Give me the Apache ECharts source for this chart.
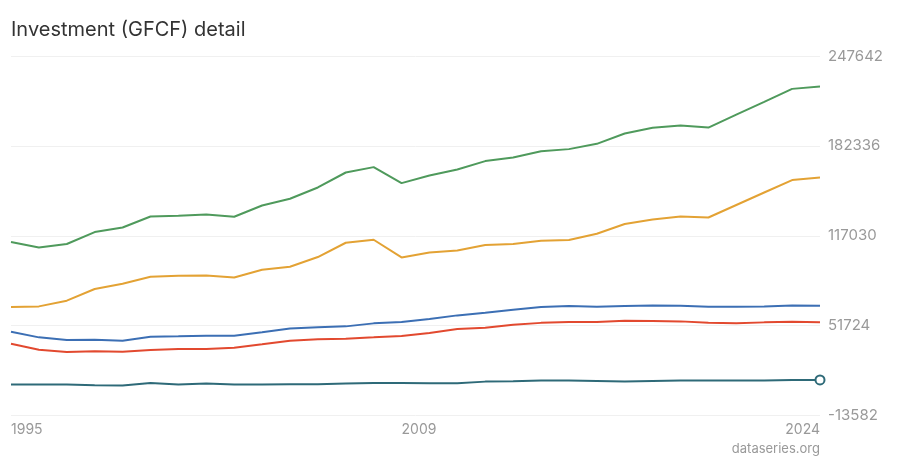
<!DOCTYPE html>
<html>
<head>
<meta charset="utf-8">
<script src="https://cdn.jsdelivr.net/npm/echarts@6/dist/echarts.min.js"></script>
<style>
html,body{margin:0;padding:0;background:#fff;}
#chart{width:900px;height:460px;}
</style>
</head>
<body>
<div id="chart"></div>
<script>
const years = ['1995','1996','1997','1998','1999','2000','2001','2002','2003','2004','2005','2006','2007','2008','2009','2010','2011','2012','2013','2014','2015','2016','2017','2018','2019','2020','2021','2022','2023','2024'];

const seriesTotal = [112456,108536,111004,119716,123056,131042,131550,132494,130824,139028,143892,152096,162986,166906,155290,160808,165164,171262,173876,178377,179974,183822,191300,195438,197108,195656,205094,214314,223752,225422];
const seriesOrange = [65266,65702,69840,78334,82182,87264,87990,88208,86756,92346,94524,101566,111948,114126,101276,104906,106358,110278,111004,113400,113908,118482,125524,128864,131042,130316,139391,148466,157468,159356];
const seriesBlue = [47334,43196,41308,41526,40800,43704,43922,44430,44430,46826,49600,50456,51182,53360,54376,56552,59168,61128,63306,65266,65992,65484,65992,66428,66210,65484,65484,65702,66428,66210];
const seriesRed = [38622,34266,32596,33030,32814,34048,34774,34774,35718,38114,40800,41744,42252,43196,44213,46390,49294,50238,52416,53723,54376,54376,55320,55102,54812,53868,53360,54086,54594,54086];
const seriesTeal = [8856,8856,8856,8348,8130,10090,8856,9582,8856,8856,9074,9074,9582,10090,10090,9800,9800,11034,11252,11760,11760,11542,11034,11542,11760,11760,11760,11760,12270,12270];

const yTicks = [-13582, 51724, 117030, 182336, 247642];
const yStep = yTicks[1] - yTicks[0];
const yBase = yTicks[0];

const shift = arr => arr.map(v => v - yBase);

const chart = echarts.init(document.getElementById('chart'), null, {renderer:'canvas'});
const mk = (name, data, color, last) => ({
  name, type:'line', data: shift(data),
  lineStyle:{color, width:2},
  itemStyle:{color:'#fff', borderColor:color, borderWidth:2},
  symbol:'circle',
  showSymbol: !!last,
  symbolSize: last ? ((v,p) => p.dataIndex === data.length-1 ? 9 : 0) : 0,
  emphasis:{disabled:true},
  z: 2
});
chart.setOption({
  animation:false,
  backgroundColor:'#fff',
  textStyle:{fontFamily:'Inter, "Noto Sans", sans-serif'},
  title:{
    text:'Investment (GFCF) detail',
    left:6, top:15,
    textStyle:{fontSize:20, fontWeight:'normal', color:'#333', fontFamily:'Inter, sans-serif'}
  },
  graphic:[{
    type:'text', right:80, top:443,
    style:{text:'dataseries.org', fontSize:13, fill:'#999', fontFamily:'Inter, sans-serif'}
  }],
  grid:{left:11, right:80, top:56, bottom:44.5},
  xAxis:{
    type:'category', data:years, boundaryGap:false,
    axisLine:{show:false}, axisTick:{show:false},
    axisLabel:{
      interval:(i) => i===0 || i===14 || i===years.length-1,
      align:'left', alignMaxLabel:'right', alignMinLabel:'left',
      color:'#999', fontSize:14, margin:7, fontFamily:'Inter, sans-serif'
    },
    splitLine:{show:false}
  },
  yAxis:{
    type:'value', position:'right',
    min:0, max:yTicks[yTicks.length-1]-yBase, interval:yStep,
    axisLine:{show:false}, axisTick:{show:false},
    axisLabel:{
      formatter:(v) => String(Math.round(v + yBase)),
      color:'#999', fontSize:15, margin:8, fontFamily:'Inter, sans-serif'
    },
    splitLine:{lineStyle:{color:'#f0f0f0', width:1}}
  },
  series:[
    mk('Total', seriesTotal, '#4f9a5c'),
    mk('Series 2', seriesOrange, '#e3a234'),
    mk('Series 3', seriesBlue, '#3c6fb4'),
    mk('Series 4', seriesRed, '#e2492f'),
    mk('Series 5', seriesTeal, '#2e6a78', true)
  ]
});
</script>
</body>
</html>
